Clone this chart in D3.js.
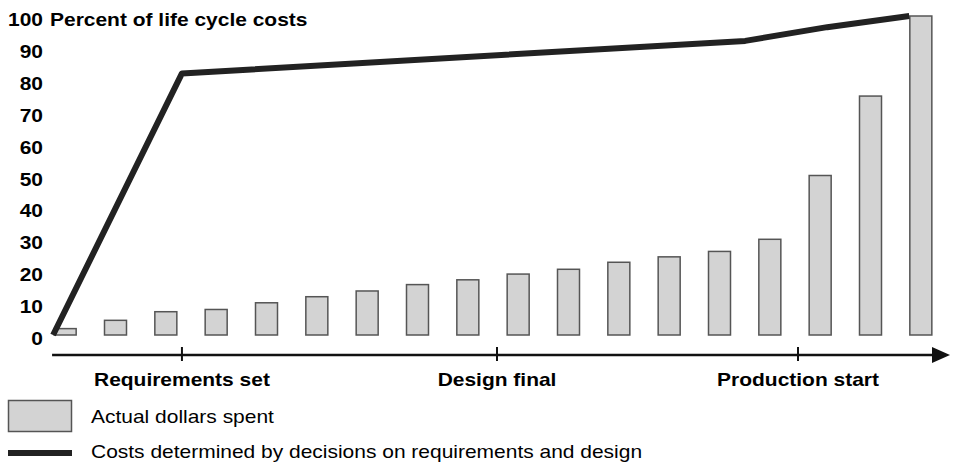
<!DOCTYPE html>
<html>
<head>
<meta charset="utf-8">
<script src="https://cdn.jsdelivr.net/npm/d3@7/dist/d3.min.js"></script>
<style>
  body { margin: 0; background: #fff; }
  svg { display: block; font-family: "Liberation Sans", Arial, Helvetica, sans-serif; }
</style>
</head>
<body>
<div id="chart"></div>
<script>
// actual dollars spent, one bar per period
const spent = [2, 4.6, 7.3, 8, 10.1, 12, 13.8, 15.8, 17.3, 19.1, 20.6, 22.8, 24.5, 26.2, 30, 50, 74.9, 100];
// committed cost curve (x in period units, y in percent)
const committedX = [0.26, 2.82, 14.01, 15.64, 17.27];
const committedY = [0, 82, 92.2, 96.5, 100];
// milestones on the time axis
const milestoneNames = ["Requirements set", "Design final", "Production start"];
const milestoneX = [2.82, 9.08, 15.06];
const yTicks = [0, 10, 20, 30, 40, 50, 60, 70, 80, 90, 100];

const width = 959, height = 462;
const svg = d3.select('#chart').append('svg')
              .attr('width', width)
              .attr('height', height);

// x in "period" units, 18 periods
const x = d3.scaleLinear().domain([0, 18]).range([40, 946]);
const y = d3.scaleLinear().domain([0, 100]).range([335, 16]);
const barW = 22;
// the original font is wider than Liberation Sans at the same cap height
const stretch = 1.165;

//helper to place a horizontally stretched label
function label(g, tx, ty, str, opts = {}){
    return g.append('text')
            .attr('transform', `translate(${tx},${ty}) scale(${stretch},1)`)
            .attr('text-anchor', opts.anchor || 'start')
            .attr('font-size', 18)
            .attr('font-weight', opts.bold ? 'bold' : 'normal')
            .text(str);
}

// y tick labels
yTicks.forEach(t => label(svg, 43, y(t) + 10, t, {anchor: 'end', bold: true}));
label(svg, 50, y(100) + 10, 'Percent of life cycle costs', {bold: true});

// bars
svg.append('g').selectAll('rect')
   .data(spent)
   .enter().append('rect')
   .attr('x', (d, i) => x(i + 0.5) - barW / 2)
   .attr('y', d => y(d))
   .attr('width', barW)
   .attr('height', d => y(0) - y(d))
   .attr('fill', '#d3d3d3')
   .attr('stroke', '#555')
   .attr('stroke-width', 1.5);

// committed cost line
const pts = committedX.map((v, i) => [v, committedY[i]]);
const line = d3.line().x(d => x(d[0])).y(d => y(d[1]));
svg.append('path')
   .datum(pts)
   .attr('d', line)
   .attr('fill', 'none')
   .attr('stroke', '#222')
   .attr('stroke-width', 6)
   .attr('stroke-linejoin', 'round');

// time axis with arrow
const axisY = 355;
svg.append('line')
   .attr('x1', x(0.24)).attr('x2', 935)
   .attr('y1', axisY).attr('y2', axisY)
   .attr('stroke', '#111').attr('stroke-width', 2.5);
svg.append('path')
   .attr('d', `M932,${axisY - 8}L950,${axisY}L932,${axisY + 8}Z`)
   .attr('fill', '#111');

svg.append('g').selectAll('line')
   .data(milestoneX)
   .enter().append('line')
   .attr('x1', d => x(d)).attr('x2', d => x(d))
   .attr('y1', axisY - 8).attr('y2', axisY + 6)
   .attr('stroke', '#111').attr('stroke-width', 2);
milestoneX.forEach((m, i) => label(svg, x(m), 386, milestoneNames[i], {anchor: 'middle', bold: true}));

// legend
svg.append('rect')
   .attr('x', 8.5).attr('y', 400.5)
   .attr('width', 63).attr('height', 31)
   .attr('fill', '#d3d3d3').attr('stroke', '#555').attr('stroke-width', 1.5);
label(svg, 91, 423, 'Actual dollars spent');
svg.append('line')
   .attr('x1', 8).attr('x2', 72)
   .attr('y1', 453).attr('y2', 453)
   .attr('stroke', '#222').attr('stroke-width', 6);
label(svg, 91, 458, 'Costs determined by decisions on requirements and design');
</script>
</body>
</html>
